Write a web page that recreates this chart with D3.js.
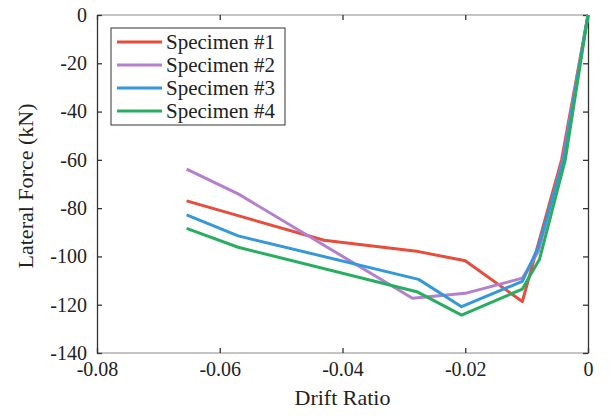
<!DOCTYPE html>
<html>
<head>
<meta charset="utf-8">
<script src="https://cdn.jsdelivr.net/npm/d3@7"></script>
<style>
  body { margin: 0; background: #fff; }
</style>
</head>
<body>
<script>
const width = 615,
  height = 416;
const serif = "'Liberation Serif', 'Times New Roman', 'DejaVu Serif', serif";

// data
const seriesNames = ["Specimen #1", "Specimen #2", "Specimen #3", "Specimen #4"];
const seriesColors = ["#e74c3c", "#b57fcf", "#3498db", "#27ae60"];

const drift1 = [-0.0654, -0.043, -0.0276, -0.0200, -0.0107, -0.0043, 0];
const force1 = [-77.0, -93.3, -98.0, -101.8, -118.7, -60, 0];

const drift2 = [-0.0654, -0.057, -0.0286, -0.0200, -0.0107, -0.0081, -0.0041, 0];
const force2 = [-63.8, -74.1, -117.3, -115.3, -109.0, -98.0, -60, 0];

const drift3 = [-0.0654, -0.057, -0.0276, -0.0206, -0.0107, -0.0081, -0.0040, 0];
const force3 = [-82.8, -91.5, -109.5, -120.8, -110.3, -96.2, -60, 0];

const drift4 = [-0.0654, -0.057, -0.0279, -0.0206, -0.0107, -0.0079, -0.0037, 0];
const force4 = [-88.4, -96.2, -114.6, -124.3, -113.5, -101.2, -60, 0];

const xTicks = [-0.08, -0.06, -0.04, -0.02, 0];
const yTicks = [0, -20, -40, -60, -80, -100, -120, -140];

const series = [
  [drift1, force1],
  [drift2, force2],
  [drift3, force3],
  [drift4, force4],
].map(([xs, ys], i) => ({
  name: seriesNames[i],
  color: seriesColors[i],
  points: xs.map((x, j) => [x, ys[j]]),
}));

const margin = { top: 15, left: 97, right: 27, bottom: 63 };
const innerW = width - margin.left - margin.right,
  innerH = height - margin.top - margin.bottom;

const svg = d3
  .select("body")
  .append("svg")
  .attr("width", width)
  .attr("height", height)
  .attr("font-family", serif);

const g = svg
  .append("g")
  .attr("transform", `translate(${margin.left},${margin.top})`);

const xScale = d3.scaleLinear().domain([-0.08, 0]).range([0, innerW]);
const yScale = d3.scaleLinear().domain([-140, 0]).range([innerH, 0]);

// box: top and bottom in light grey, sides dark
g.append("line")
  .attr("x1", 0).attr("x2", innerW).attr("y1", 0).attr("y2", 0)
  .attr("stroke", "#b0b0b0").attr("stroke-width", 1.5);
g.append("line")
  .attr("x1", 0).attr("x2", innerW).attr("y1", innerH).attr("y2", innerH)
  .attr("stroke", "#b0b0b0").attr("stroke-width", 1.5);

// axes
const fmtX = (d) => (d === 0 ? "0" : d3.format(".2f")(d).replace("−", "-"));
const fmtY = (d) => String(d);

const xAxis = g
  .append("g")
  .attr("transform", `translate(0,${innerH})`)
  .call(d3.axisBottom(xScale).tickValues(xTicks).tickSizeInner(-5).tickSizeOuter(0).tickPadding(6).tickFormat(fmtX));
const xTop = g
  .append("g")
  .call(d3.axisTop(xScale).tickValues(xTicks).tickSizeInner(-5).tickSizeOuter(0).tickFormat(""));
const yAxis = g
  .append("g")
  .call(d3.axisLeft(yScale).tickValues(yTicks).tickSizeInner(-5).tickSizeOuter(0).tickPadding(10).tickFormat(fmtY));
const yRight = g
  .append("g")
  .attr("transform", `translate(${innerW},0)`)
  .call(d3.axisRight(yScale).tickValues(yTicks).tickSizeInner(-5).tickSizeOuter(0).tickFormat(""));

[xAxis, xTop].forEach((a) => a.select(".domain").remove());
[yAxis, yRight].forEach((a) => a.select(".domain").attr("stroke", "#333").attr("stroke-width", 1.3));
[xAxis, xTop, yAxis, yRight].forEach((a) => {
  a.attr("font-family", serif).attr("font-size", 20);
  a.selectAll(".tick line").attr("stroke", "#333").attr("stroke-width", 1.3);
  a.selectAll("text").attr("fill", "#222");
});
xAxis.selectAll(".tick text").attr("dy", "0.85em");

// lines
const line = d3
  .line()
  .x((d) => xScale(d[0]))
  .y((d) => yScale(d[1]));

g.selectAll(".series")
  .data(series)
  .enter()
  .append("path")
  .attr("class", "series")
  .attr("d", (d) => line(d.points))
  .attr("fill", "none")
  .attr("stroke", (d) => d.color)
  .attr("stroke-width", 3)
  .attr("stroke-linejoin", "round");

// axis titles
svg
  .append("text")
  .attr("x", margin.left + innerW / 2)
  .attr("y", 405)
  .attr("text-anchor", "middle")
  .attr("font-size", 22)
  .attr("fill", "#222")
  .text("Drift Ratio");

svg
  .append("text")
  .attr("transform", `translate(33,${margin.top + innerH / 2 + 2}) rotate(-90)`)
  .attr("text-anchor", "middle")
  .attr("font-size", 22)
  .attr("fill", "#222")
  .text("Lateral Force (kN)");

// legend
const legend = svg.append("g").attr("transform", "translate(111,28)");
legend
  .append("rect")
  .attr("width", 174)
  .attr("height", 97)
  .attr("fill", "#fff")
  .attr("stroke", "#333")
  .attr("stroke-width", 1);

const item = legend
  .selectAll(".item")
  .data(series)
  .enter()
  .append("g")
  .attr("transform", (d, i) => `translate(0,${14 + i * 23})`);
item
  .append("line")
  .attr("x1", 6)
  .attr("x2", 51)
  .attr("stroke", (d) => d.color)
  .attr("stroke-width", 3);
item
  .append("text")
  .attr("x", 55)
  .attr("dy", "0.33em")
  .attr("font-size", 21)
  .attr("fill", "#222")
  .text((d) => d.name);
</script>
</body>
</html>
